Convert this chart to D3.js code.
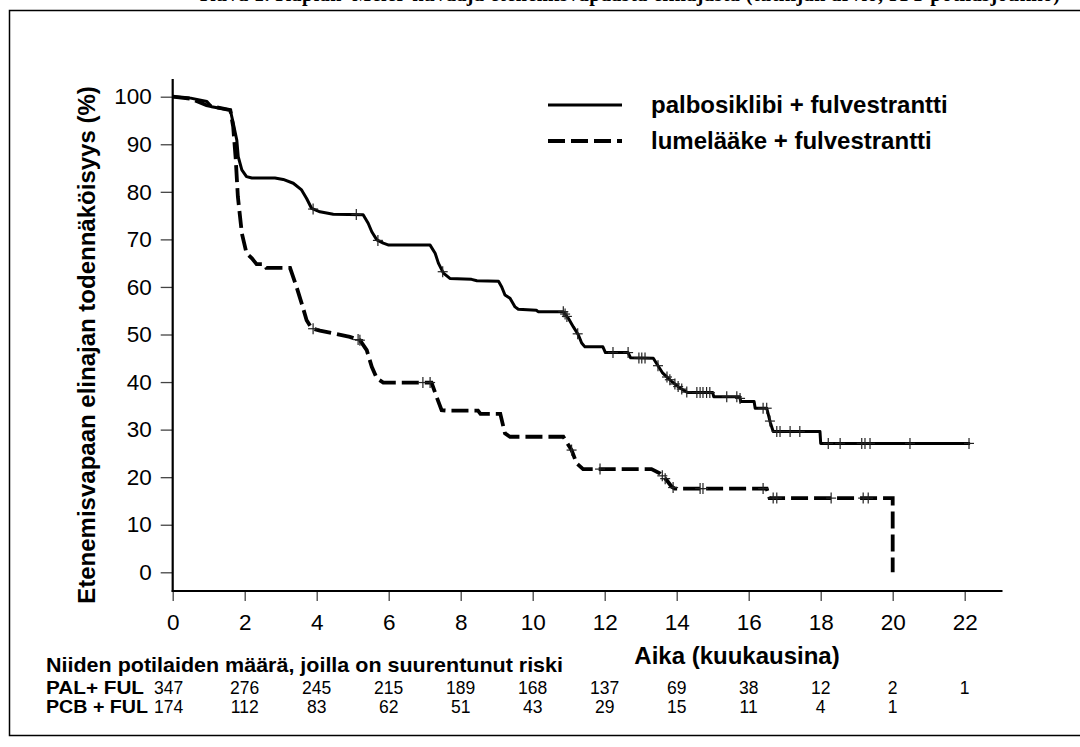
<!DOCTYPE html>
<html>
<head>
<meta charset="utf-8">
<script src="https://cdn.jsdelivr.net/npm/d3@7/dist/d3.min.js"></script>
<style>
  html, body { margin: 0; padding: 0; background: #fff; }
  svg { display: block; }
  text { font-family: Arial, "Liberation Sans", sans-serif; fill: #000; }
  .narrow { font-family: "Liberation Sans Narrow", "Arial Narrow", Arial, sans-serif; }
</style>
</head>
<body>
<svg id="chart" width="1080" height="747"></svg>
<script>
// ---------------- data ----------------
const monthTicks = [0, 2, 4, 6, 8, 10, 12, 14, 16, 18, 20, 22];
const yTicks = [0, 10, 20, 30, 40, 50, 60, 70, 80, 90, 100];

const seriesNames = ["palbosiklibi + fulvestrantti", "lumelääke + fulvestrantti"];

// palbosiklibi + fulvestrantti: [months, probability %]
const palCurve = [
  [0,100],[0.5,99.7],[0.95,99.0],[1.08,97.9],[1.6,97.2],[1.68,94.5],[1.78,90.9],[1.82,87.4],
  [1.92,84.6],[2.05,83.2],[2.2,82.9],[2.84,82.9],[3.07,82.6],[3.35,81.8],[3.58,80.4],[3.72,78.6],
  [3.86,76.5],[4.09,75.8],[4.46,75.3],[5.29,75.2],[5.43,73.4],[5.53,71.6],[5.67,69.9],[5.85,69.2],
  [6.0,68.8],[7.15,68.8],[7.29,67.1],[7.38,65.0],[7.52,62.9],[7.7,61.8],[8.3,61.6],[8.45,61.3],
  [9.05,61.2],[9.14,60.0],[9.23,58.3],[9.37,57.6],[9.51,55.8],[9.6,55.3],[10.1,55.1],[10.15,54.8],
  [10.85,54.8],[10.99,53.4],[11.13,51.6],[11.27,49.9],[11.36,48.2],[11.45,47.4],[11.95,47.4],
  [12.02,46.2],[12.65,46.2],[12.72,45.1],[13.35,45.0],[13.45,43.8],[13.6,42.0],[13.85,40.2],
  [14.1,38.7],[14.3,37.8],[15.0,37.8],[15.03,36.9],[15.75,36.9],[15.78,35.9],[16.15,35.9],
  [16.18,34.5],[16.5,34.5],[16.6,31.5],[16.68,29.6],[17.98,29.6],[18.0,27.1],[22.15,27.1]
];
const palCensored = [3.9, 5.1, 5.7, 7.5, 10.85, 10.9, 10.95, 11.25, 12.23, 12.65, 12.95, 13.03, 13.12,
  13.48, 13.73, 13.81, 13.95, 14.04, 14.14, 14.28, 14.56, 14.65, 14.73, 14.83, 14.92, 15.39,
  15.67, 15.76, 16.4, 16.5, 16.59, 16.78, 16.87, 17.15, 17.42, 18.21, 18.54, 19.14, 19.23,
  19.37, 20.48, 22.12];

// lumelääke + fulvestrantti: [months, probability %]
const pcbCurve = [
  [0,100],[0.5,99.6],[0.94,98.2],[1.6,97.2],[1.68,93.7],[1.75,87.0],[1.81,79.0],[1.92,71.3],
  [2.05,67.1],[2.2,66.0],[2.33,64.8],[2.55,64.8],[2.6,64.0],[3.26,64.0],[3.44,60.0],[3.58,56.6],
  [3.72,53.0],[3.86,51.3],[4.09,50.8],[4.55,50.1],[4.92,49.5],[5.2,48.8],[5.39,46.7],[5.53,43.2],
  [5.67,40.8],[5.85,39.9],[7.19,39.9],[7.33,36.9],[7.47,34.1],[7.61,34.0],[8.48,34.0],[8.55,33.3],
  [9.1,33.3],[9.23,29.2],[9.37,28.5],[10.85,28.5],[11.08,25.7],[11.22,22.9],[11.4,21.7],
  [13.3,21.7],[13.53,20.8],[13.72,19.4],[13.86,18.0],[13.95,17.6],[16.5,17.6],[16.58,15.6],
  [20.0,15.6],[20.0,0]
];
const pcbCensored = [3.9, 5.15, 5.2, 6.95, 7.15, 11.08, 11.87, 13.6, 13.68, 13.9, 14.65, 14.73,
  16.4, 16.68, 16.78, 18.29, 19.18, 19.32];

// numbers at risk
const riskTitle = "Niiden potilaiden määrä, joilla on suurentunut riski";
const riskLabels = ["PAL+ FUL", "PCB + FUL"];
const riskPal = [347, 276, 245, 215, 189, 168, 137, 69, 38, 12, 2, 1];
const riskPcb = [174, 112, 83, 62, 51, 43, 29, 15, 11, 4, 1];

const yTitle = "Etenemisvapaan elinajan todennäköisyys (%)";
const xTitle = "Aika (kuukausina)";
const topTitle = "Kuva 1. Kaplan–Meier-kuvaaja etenemisvapaasta elinajasta (tutkijan arvio, ITT-potilasjoukko)";

// ---------------- drawing ----------------
const svg = d3.select("#chart");
const x = d3.scaleLinear().domain([0, 22]).range([172.7, 964.7]);
const y = d3.scaleLinear().domain([0, 100]).range([572.3, 96.7]);
const axisY = 591;

// clipped title at top edge (only glyph bottoms visible, as in the reference)
svg.append("text")
  .attr("x", 200).attr("y", 0.5)
  .attr("textLength", 860).attr("lengthAdjust", "spacing")
  .style("font-family", "'Liberation Serif', 'Times New Roman', serif")
  .style("font-weight", "bold").style("font-size", "20px")
  .text(topTitle);

// outer frame
svg.append("rect")
  .attr("x", 9.5).attr("y", 10.5).attr("width", 1100).attr("height", 725)
  .attr("fill", "none").attr("stroke", "#000").attr("stroke-width", 1.5);

// y axis
const gy = svg.append("g").attr("transform", `translate(${x(0)},0)`)
  .call(d3.axisLeft(y).tickValues(yTicks).tickSize(12).tickPadding(9).tickFormat(d3.format("d")));
gy.select(".domain").remove();
gy.selectAll(".tick line").attr("stroke", "#444").attr("stroke-width", 1.3);
gy.selectAll(".tick text").style("font-size", "22.5px").style("font-family", "Arial, 'Liberation Sans', sans-serif");

// x axis
const gx = svg.append("g").attr("transform", `translate(0,${axisY})`)
  .call(d3.axisBottom(x).tickValues(monthTicks).tickSize(10).tickPadding(13).tickFormat(d3.format("d")));
gx.select(".domain").remove();
gx.selectAll(".tick line").attr("stroke", "#444").attr("stroke-width", 1.3);
gx.selectAll(".tick text").style("font-size", "22.5px").style("font-family", "Arial, 'Liberation Sans', sans-serif");

// axis lines
svg.append("line").attr("x1", x(0)).attr("x2", x(0)).attr("y1", 79).attr("y2", axisY + 1)
  .attr("stroke", "#000").attr("stroke-width", 2.2);
svg.append("line").attr("x1", x(0) - 1).attr("x2", x(23.05)).attr("y1", axisY).attr("y2", axisY)
  .attr("stroke", "#000").attr("stroke-width", 2.2);

// curves
const line = d3.line().x(d => x(d[0])).y(d => y(d[1])).curve(d3.curveLinear);
svg.append("path").datum(palCurve).attr("d", line)
  .attr("fill", "none").attr("stroke", "#000").attr("stroke-width", 3).attr("stroke-linejoin", "round");
svg.append("path").datum(pcbCurve).attr("d", line)
  .attr("fill", "none").attr("stroke", "#000").attr("stroke-width", 3.8)
  .attr("stroke-dasharray", "17,6");

// censor marks
function valueAt(curve, t) {
  for (let i = 1; i < curve.length; i++) {
    const a = curve[i - 1], b = curve[i];
    if (t >= a[0] && t <= b[0]) {
      if (b[0] === a[0]) return a[1];
      return a[1] + (b[1] - a[1]) * (t - a[0]) / (b[0] - a[0]);
    }
  }
  return curve[curve.length - 1][1];
}
function drawCensor(curve, times) {
  const g = svg.append("g").attr("stroke", "#222").attr("stroke-width", 1.2);
  times.forEach(t => {
    const cx = x(t), cy = y(valueAt(curve, t));
    g.append("line").attr("x1", cx).attr("x2", cx).attr("y1", cy - 5.5).attr("y2", cy + 5.5);
    g.append("line").attr("x1", cx - 5).attr("x2", cx + 5).attr("y1", cy).attr("y2", cy);
  });
}
drawCensor(palCurve, palCensored);
drawCensor(pcbCurve, pcbCensored);

// legend
const legend = svg.append("g");
legend.append("line").attr("x1", 548).attr("x2", 622).attr("y1", 105).attr("y2", 105)
  .attr("stroke", "#000").attr("stroke-width", 3);
legend.append("line").attr("x1", 548).attr("x2", 622).attr("y1", 141).attr("y2", 141)
  .attr("stroke", "#000").attr("stroke-width", 3.8).attr("stroke-dasharray", "17,6");
legend.selectAll("text.lg").data(seriesNames).join("text")
  .attr("class", "lg")
  .attr("x", 651).attr("y", (d, i) => 113 + i * 36)
  .style("font-weight", "bold").style("font-size", "24px")
  .text(d => d);

// axis titles
svg.append("text")
  .attr("transform", `translate(95,${345}) rotate(-90)`)
  .attr("text-anchor", "middle")
  .style("font-weight", "bold").style("font-size", "24px")
  .text(yTitle);
svg.append("text")
  .attr("x", 737).attr("y", 664).attr("text-anchor", "middle")
  .style("font-weight", "bold").style("font-size", "24px")
  .text(xTitle);

// risk table
svg.append("text")
  .attr("class", "narrow")
  .attr("x", 46).attr("y", 672)
  .attr("textLength", 517).attr("lengthAdjust", "spacingAndGlyphs")
  .style("font-weight", "bold").style("font-size", "21px")
  .text(riskTitle);
const rows = [riskPal, riskPcb];
const labelLen = [98, 102];
rows.forEach((vals, r) => {
  const by = 694 + r * 19;
  svg.append("text").attr("class", "narrow").attr("x", 46).attr("y", by)
    .attr("textLength", labelLen[r]).attr("lengthAdjust", "spacingAndGlyphs")
    .style("font-weight", "bold").style("font-size", "17.5px")
    .text(riskLabels[r]);
  svg.append("g").selectAll("text").data(vals).join("text")
    .attr("class", "narrow")
    .attr("x", (d, i) => x(monthTicks[i]) + (i === 0 ? -4 : 0))
    .attr("y", by).attr("text-anchor", "middle")
    .style("font-size", "17.5px")
    .text(d => d);
});
</script>
</body>
</html>
